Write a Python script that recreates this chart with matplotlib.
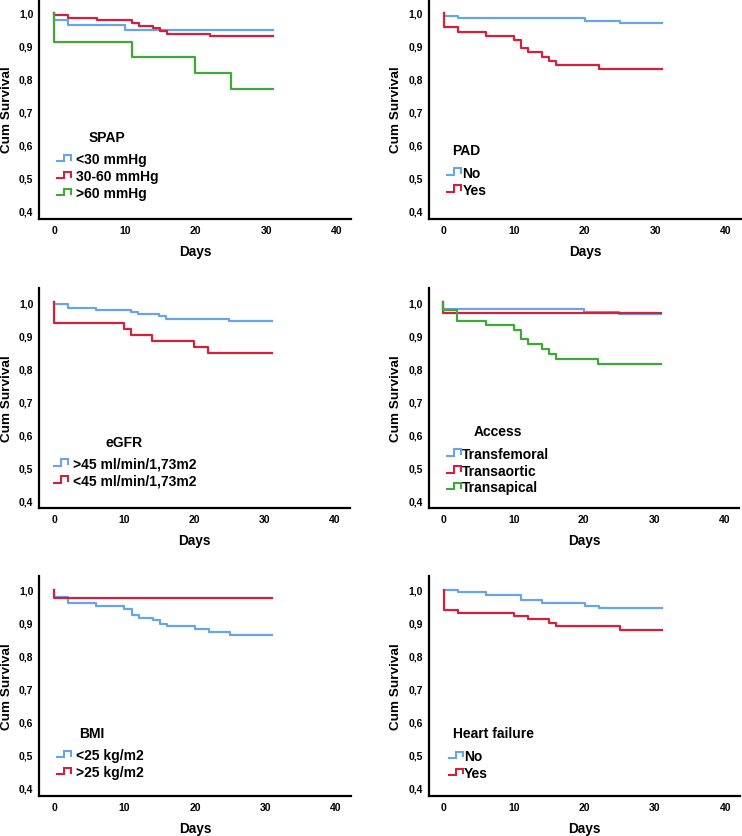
import matplotlib
matplotlib.use("Agg")
import matplotlib.pyplot as plt
from matplotlib.lines import Line2D
from matplotlib.legend_handler import HandlerBase
from matplotlib.font_manager import FontProperties

# ---------------- data ----------------
y_ticks = [0.4, 0.5, 0.6, 0.7, 0.8, 0.9, 1.0]
y_tick_labels = ["0,4", "0,5", "0,6", "0,7", "0,8", "0,9", "1,0"]
x_ticks = [0, 10, 20, 30, 40]
x_tick_labels = ["0", "10", "20", "30", "40"]

# SPAP
spap_lt30_t = [0, 0, 2, 10, 31]
spap_lt30_s = [1.0, 0.978, 0.962, 0.947, 0.947]
spap_30_60_t = [0, 0, 2, 6, 11, 12, 14, 15, 16, 22, 31]
spap_30_60_s = [1.0, 0.992, 0.983, 0.977, 0.969, 0.961, 0.953, 0.945, 0.937, 0.929, 0.929]
spap_gt60_t = [0, 0, 11, 20, 25, 31]
spap_gt60_s = [1.0, 0.911, 0.865, 0.816, 0.769, 0.769]

# PAD
pad_no_t = [0, 0, 2, 20, 25, 31]
pad_no_s = [1.0, 0.991, 0.983, 0.976, 0.969, 0.969]
pad_yes_t = [0, 0, 2, 6, 10, 11, 12, 14, 15, 16, 22, 31]
pad_yes_s = [1.0, 0.956, 0.941, 0.929, 0.917, 0.892, 0.880, 0.867, 0.855, 0.842, 0.829, 0.829]

# eGFR
egfr_gt45_t = [0, 0, 2, 6, 11, 12, 15, 16, 25, 31]
egfr_gt45_s = [1.0, 0.993, 0.981, 0.975, 0.969, 0.963, 0.957, 0.950, 0.944, 0.944]
egfr_lt45_t = [0, 0, 10, 11, 14, 20, 22, 31]
egfr_lt45_s = [1.0, 0.937, 0.917, 0.901, 0.883, 0.865, 0.847, 0.847]

# Access
acc_tf_t = [0, 0, 20, 25, 31]
acc_tf_s = [1.0, 0.979, 0.971, 0.965, 0.965]
acc_ta_t = [0, 0, 31]
acc_ta_s = [1.0, 0.968, 0.968]
acc_tap_t = [0, 0, 2, 6, 10, 11, 12, 14, 15, 16, 22, 31]
acc_tap_s = [1.0, 0.976, 0.944, 0.931, 0.915, 0.887, 0.872, 0.857, 0.842, 0.827, 0.813, 0.813]

# BMI
bmi_lt25_t = [0, 0, 2, 6, 10, 11, 12, 14, 15, 16, 20, 22, 25, 31]
bmi_lt25_s = [1.0, 0.977, 0.960, 0.952, 0.941, 0.924, 0.916, 0.907, 0.897, 0.889, 0.881, 0.872, 0.864, 0.864]
bmi_gt25_t = [0, 0, 31]
bmi_gt25_s = [1.0, 0.974, 0.974]

# Heart failure
hf_no_t = [0, 2, 6, 11, 14, 20, 22, 31]
hf_no_s = [1.0, 0.992, 0.985, 0.968, 0.960, 0.952, 0.944, 0.944]
hf_yes_t = [0, 0, 2, 10, 12, 15, 16, 25, 31]
hf_yes_s = [1.0, 0.939, 0.930, 0.920, 0.910, 0.900, 0.889, 0.878, 0.878]

# ---------------- style ----------------
BLUE = "#66a6e8"
RED = "#d3203d"
GREEN = "#40a837"
FONT = "Liberation Sans"
LW = 1.6

W, H = 742, 837
fig = plt.figure(figsize=(W / 100, H / 100), dpi=100)


class StepHandler(HandlerBase):
    def create_artists(self, legend, orig_handle, xdescent, ydescent,
                       width, height, fontsize, trans):
        x0 = -xdescent
        y0 = -ydescent
        xm = x0 + 0.5 * width
        lo = y0 + 0.2 * height
        hi = y0 + 0.85 * height
        xs = [x0, xm, xm, x0 + width, x0 + width]
        ys = [lo, lo, hi, hi, lo + 0.15 * height]
        ln = Line2D(xs, ys, color=orig_handle.get_color(), lw=1.5,
                    solid_joinstyle="miter")
        ln.set_transform(trans)
        return [ln]


AX_H = 220.4


def make_axes(left_px, right_px, bottom_px):
    ax = fig.add_axes([left_px / W, 1 - bottom_px / H,
                       (right_px - left_px) / W, AX_H / H])
    style_axes(ax, right_px - left_px)
    return ax


def style_axes(ax, width_px):
    ax.set_xlim(-2.1, 42.1)
    ax.set_ylim(0.375, 1.043)
    for s in ["top", "right"]:
        ax.spines[s].set_visible(False)
    for s in ["left", "bottom"]:
        ax.spines[s].set_linewidth(1.6)
        ax.spines[s].set_color("black")
    ax.set_yticks(y_ticks)
    ax.set_yticklabels(y_tick_labels)
    ax.set_xticks(x_ticks)
    ax.set_xticklabels(x_tick_labels)
    ax.tick_params(axis="both", length=0, labelsize=7.5)
    ax.tick_params(axis="y", pad=4.3)
    ax.tick_params(axis="x", pad=4.0)
    for lab in ax.get_xticklabels() + ax.get_yticklabels():
        lab.set_fontweight("bold")
        lab.set_family(FONT)
    ax.set_xlabel("Days", fontsize=9.8, fontweight="bold", family=FONT)
    ax.set_ylabel("Cum Survival", fontsize=9.7, fontweight="bold", family=FONT)
    ax.xaxis.set_label_coords(0.5, -24.7 / AX_H)
    ax.yaxis.set_label_coords(-26.3 / width_px, 0.5)


FP = FontProperties(family=FONT, weight="bold", size=10)


def add_legend(ax, handles, labels, title, title_xy, x_px, y_px, textpad):
    fig.text(title_xy[0] / W, 1 - title_xy[1] / H, title, ha="center",
             va="baseline", fontproperties=FP)
    leg = ax.legend(handles, labels, loc="upper left",
                    bbox_to_anchor=(x_px / W, 1 - y_px / H),
                    bbox_transform=fig.transFigure, frameon=False,
                    borderpad=0, borderaxespad=0, handlelength=1.0,
                    handleheight=0.7, handletextpad=textpad, labelspacing=0.21,
                    prop=FP, handler_map={Line2D: StepHandler()})
    return leg


LX0 = 39.3
RX0 = 428.7
ROWS = [220.0, 509.3, 797.0]

# Panel 1: SPAP
ax = make_axes(LX0, 351.5, ROWS[0])
h1, = ax.step(spap_lt30_t, spap_lt30_s, where="post", color=BLUE, lw=LW)
h2, = ax.step(spap_30_60_t, spap_30_60_s, where="post", color=RED, lw=LW)
h3, = ax.step(spap_gt60_t, spap_gt60_s, where="post", color=GREEN, lw=LW)
add_legend(ax, [h1, h2, h3], ["<30 mmHg", "30-60 mmHg", ">60 mmHg"], "SPAP",
           (107.3, 141.7), 57, 153.2, 0.38)

# Panel 2: PAD
ax = make_axes(RX0, 742, ROWS[0])
ax.set_xlim(-2.1, 42.3)
h1, = ax.step(pad_no_t, pad_no_s, where="post", color=BLUE, lw=LW)
h2, = ax.step(pad_yes_t, pad_yes_s, where="post", color=RED, lw=LW)
add_legend(ax, [h1, h2], ["No", "Yes"], "PAD", (466, 155), 447, 166.6, 0.12)

# Panel 3: eGFR
ax = make_axes(LX0, 349.5, ROWS[1])
h1, = ax.step(egfr_gt45_t, egfr_gt45_s, where="post", color=BLUE, lw=LW)
h2, = ax.step(egfr_lt45_t, egfr_lt45_s, where="post", color=RED, lw=LW)
add_legend(ax, [h1, h2], [">45 ml/min/1,73m2", "<45 ml/min/1,73m2"], "eGFR",
           (123.8, 446.7), 54, 457.6, 0.36)

# Panel 4: Access
ax = make_axes(RX0, 739, ROWS[1])
h1, = ax.step(acc_tf_t, acc_tf_s, where="post", color=BLUE, lw=LW)
h2, = ax.step(acc_ta_t, acc_ta_s, where="post", color=RED, lw=LW)
h3, = ax.step(acc_tap_t, acc_tap_s, where="post", color=GREEN, lw=LW)
add_legend(ax, [h1, h2, h3], ["Transfemoral", "Transaortic", "Transapical"], "Access",
           (497.7, 436), 447, 447.6, 0.04)

# Panel 5: BMI
ax = make_axes(LX0, 350.5, ROWS[2])
h1, = ax.step(bmi_lt25_t, bmi_lt25_s, where="post", color=BLUE, lw=LW)
h2, = ax.step(bmi_gt25_t, bmi_gt25_s, where="post", color=RED, lw=LW)
add_legend(ax, [h1, h2], ["<25 kg/m2", ">25 kg/m2"], "BMI",
           (92.2, 738.3), 57, 749.2, 0.38)

# Panel 6: Heart failure
ax = make_axes(RX0, 740.3, ROWS[2])
h1, = ax.step(hf_no_t, hf_no_s, where="post", color=BLUE, lw=LW)
h2, = ax.step(hf_yes_t, hf_yes_s, where="post", color=RED, lw=LW)
add_legend(ax, [h1, h2], ["No", "Yes"], "Heart failure",
           (494, 738.3), 449, 749.9, 0.1)

fig.savefig("out.png", dpi=100)
